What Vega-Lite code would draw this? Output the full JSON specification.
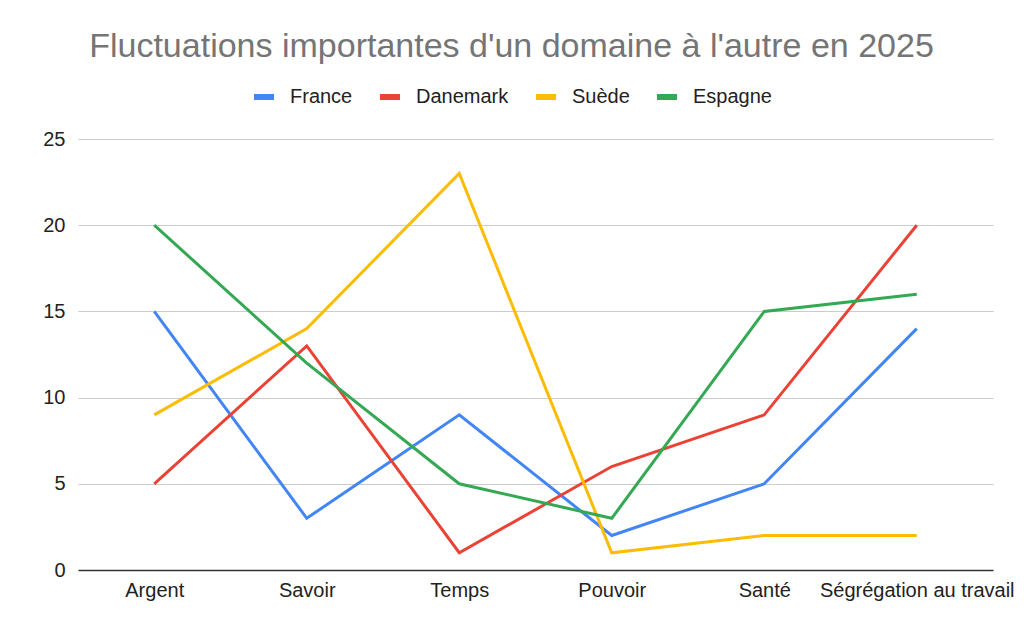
{
  "$schema": "https://vega.github.io/schema/vega-lite/v6.json",
  "width": 915,
  "height": 431,
  "autosize": {"type": "none"},
  "padding": {"left": 78, "top": 139, "right": 31, "bottom": 63},
  "background": "white",
  "title": {
    "text": "Fluctuations importantes d'un domaine à l'autre en 2025",
    "anchor": "middle",
    "font": "Liberation Sans",
    "fontSize": 34,
    "fontWeight": "normal",
    "color": "#757575",
    "dx": -24,
    "offset": 20
  },
  "config": {
    "view": {"stroke": null},
    "font": "Liberation Sans"
  },
  "data": {
    "values": [
      {"domaine": "Argent", "pays": "France", "valeur": 15},
      {"domaine": "Savoir", "pays": "France", "valeur": 3},
      {"domaine": "Temps", "pays": "France", "valeur": 9},
      {"domaine": "Pouvoir", "pays": "France", "valeur": 2},
      {"domaine": "Santé", "pays": "France", "valeur": 5},
      {"domaine": "Ségrégation au travail", "pays": "France", "valeur": 14},
      {"domaine": "Argent", "pays": "Danemark", "valeur": 5},
      {"domaine": "Savoir", "pays": "Danemark", "valeur": 13},
      {"domaine": "Temps", "pays": "Danemark", "valeur": 1},
      {"domaine": "Pouvoir", "pays": "Danemark", "valeur": 6},
      {"domaine": "Santé", "pays": "Danemark", "valeur": 9},
      {"domaine": "Ségrégation au travail", "pays": "Danemark", "valeur": 20},
      {"domaine": "Argent", "pays": "Suède", "valeur": 9},
      {"domaine": "Savoir", "pays": "Suède", "valeur": 14},
      {"domaine": "Temps", "pays": "Suède", "valeur": 23},
      {"domaine": "Pouvoir", "pays": "Suède", "valeur": 1},
      {"domaine": "Santé", "pays": "Suède", "valeur": 2},
      {"domaine": "Ségrégation au travail", "pays": "Suède", "valeur": 2},
      {"domaine": "Argent", "pays": "Espagne", "valeur": 20},
      {"domaine": "Savoir", "pays": "Espagne", "valeur": 12},
      {"domaine": "Temps", "pays": "Espagne", "valeur": 5},
      {"domaine": "Pouvoir", "pays": "Espagne", "valeur": 3},
      {"domaine": "Santé", "pays": "Espagne", "valeur": 15},
      {"domaine": "Ségrégation au travail", "pays": "Espagne", "valeur": 16}
    ]
  },
  "mark": {"type": "line", "strokeWidth": 3, "strokeJoin": "miter", "strokeCap": "butt"},
  "encoding": {
    "x": {
      "field": "domaine",
      "type": "nominal",
      "sort": ["Argent", "Savoir", "Temps", "Pouvoir", "Santé", "Ségrégation au travail"],
      "scale": {"type": "point", "padding": 0.5},
      "axis": {
        "title": null,
        "labelAngle": 0,
        "labelFont": "Liberation Sans",
        "labelFontSize": 20,
        "labelColor": "#222222",
        "labelPadding": 10,
        "labelLimit": 400,
        "labelOverlap": false,
        "ticks": false,
        "grid": false,
        "domainColor": "#333333",
        "domainWidth": 1.5
      }
    },
    "y": {
      "field": "valeur",
      "type": "quantitative",
      "scale": {"domain": [0, 25], "nice": false},
      "axis": {
        "title": null,
        "values": [0, 5, 10, 15, 20, 25],
        "labelFont": "Liberation Sans",
        "labelFontSize": 20,
        "labelColor": "#222222",
        "labelPadding": 13,
        "ticks": false,
        "domain": false,
        "gridColor": "#cccccc",
        "gridWidth": 1
      }
    },
    "color": {
      "field": "pays",
      "type": "nominal",
      "scale": {
        "domain": ["France", "Danemark", "Suède", "Espagne"],
        "range": ["#4285F4", "#EA4335", "#FBBC04", "#34A853"]
      },
      "legend": {
        "title": null,
        "orient": "none",
        "direction": "horizontal",
        "legendX": 173,
        "legendY": -55,
        "symbolType": "stroke",
        "symbolSize": 400,
        "symbolStrokeWidth": 6,
        "labelFont": "Liberation Sans",
        "labelFontSize": 20,
        "labelColor": "#222222",
        "labelOffset": 13,
        "columnPadding": 15
      }
    }
  }
}
